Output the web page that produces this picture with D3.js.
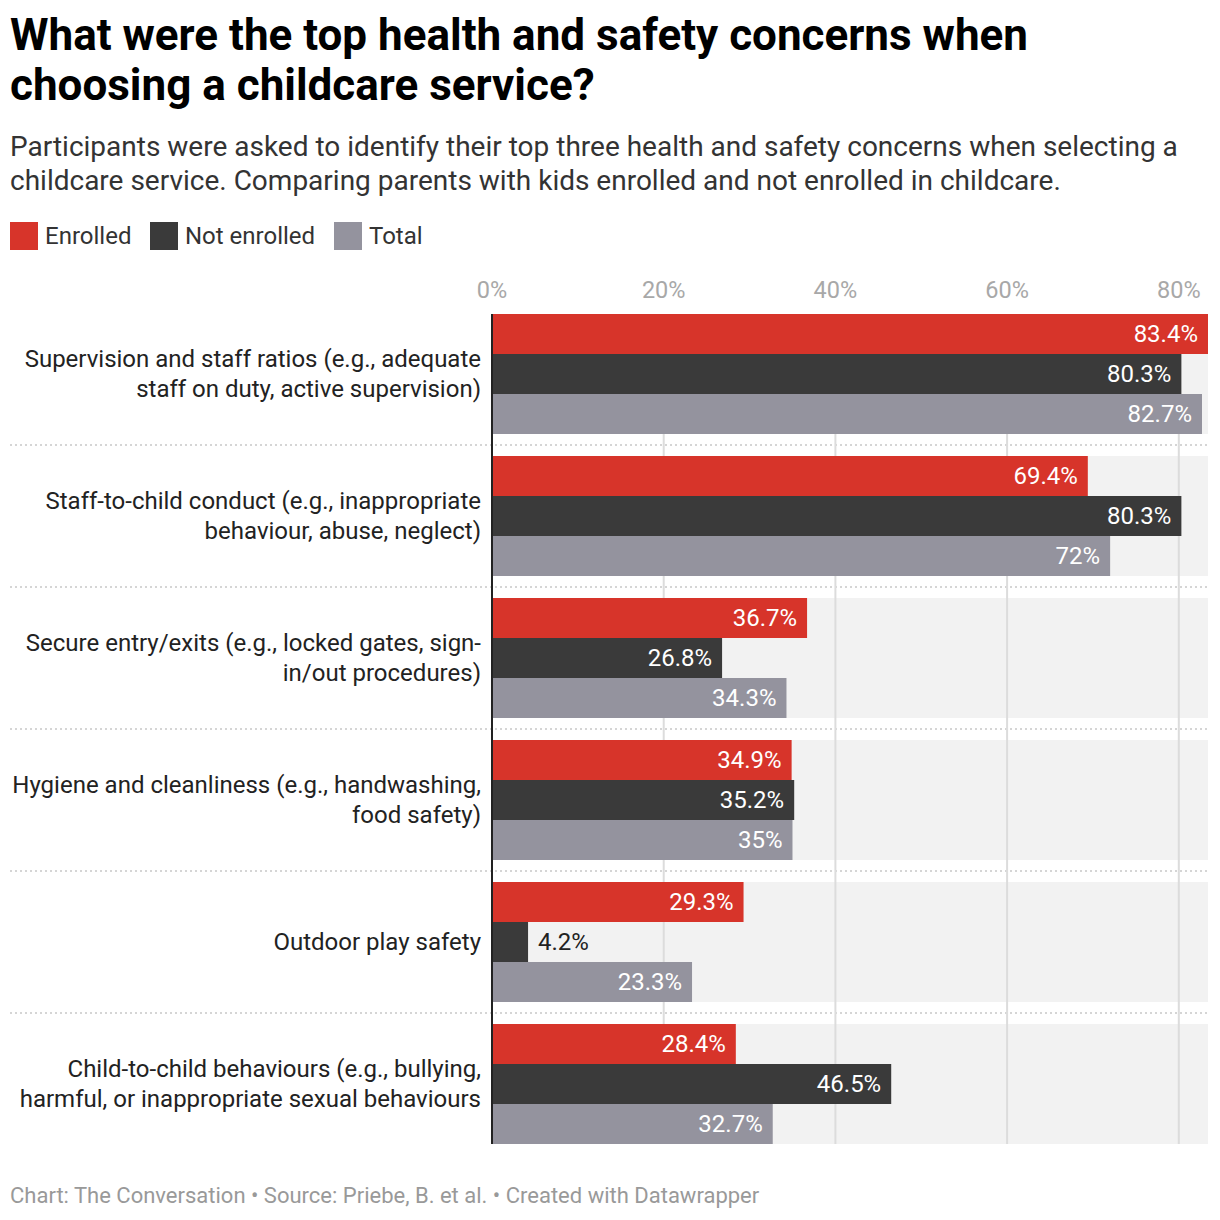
<!DOCTYPE html>
<html>
<head>
<meta charset="utf-8">
<script src="https://cdn.jsdelivr.net/npm/d3@7"></script>
<style>
  body { margin: 0; background: #fff; font-family: Roboto, sans-serif; }
  svg text { font-family: Roboto, sans-serif; }
</style>
</head>
<body>
<svg id="chart"></svg>
<script>
const width = 1220;
const height = 1220;

// data
const categories = [
    "Supervision and staff ratios (e.g., adequate\nstaff on duty, active supervision)",
    "Staff-to-child conduct (e.g., inappropriate\nbehaviour, abuse, neglect)",
    "Secure entry/exits (e.g., locked gates, sign-\nin/out procedures)",
    "Hygiene and cleanliness (e.g., handwashing,\nfood safety)",
    "Outdoor play safety",
    "Child-to-child behaviours (e.g., bullying,\nharmful, or inappropriate sexual behaviours"
];
const seriesNames = ["Enrolled", "Not enrolled", "Total"];
const enrolled = [83.4, 69.4, 36.7, 34.9, 29.3, 28.4];
const notEnrolled = [80.3, 80.3, 26.8, 35.2, 4.2, 46.5];
const total = [82.7, 72, 34.3, 35, 23.3, 32.7];
const xTicks = [0, 20, 40, 60, 80];

const colours = ["#d7342a", "#3a3a3a", "#94939e"];
const seriesValues = [enrolled, notEnrolled, total];

const rows = categories.map((c, i) => ({
    name: c,
    values: seriesValues.map((s, j) => ({ series: seriesNames[j], value: s[i], colour: colours[j] }))
}));

const svg = d3.select("#chart")
    .attr("width", width)
    .attr("height", height)
    .attr("viewBox", `0 0 ${width} ${height}`);

// header
svg.append("text")
    .attr("font-size", 44).attr("font-weight", 700).attr("fill", "#000")
    .selectAll("tspan")
    .data(["What were the top health and safety concerns when", "choosing a childcare service?"])
    .enter().append("tspan")
    .attr("x", 10).attr("y", (d, i) => 50 + i * 50)
    .text(d => d);

svg.append("text")
    .attr("font-size", 28).attr("fill", "#333")
    .selectAll("tspan")
    .data(["Participants were asked to identify their top three health and safety concerns when selecting a",
           "childcare service. Comparing parents with kids enrolled and not enrolled in childcare."])
    .enter().append("tspan")
    .attr("x", 10).attr("y", (d, i) => 156 + i * 34)
    .text(d => d);

// legend
const legendX = [10, 150, 334];
const legend = svg.append("g").selectAll("g")
    .data(seriesNames).enter().append("g")
    .attr("transform", (d, i) => `translate(${legendX[i]}, 222)`);
legend.append("rect").attr("width", 28).attr("height", 28).attr("fill", (d, i) => colours[i]);
legend.append("text").attr("x", 35).attr("y", 22).attr("font-size", 24).attr("fill", "#333").text(d => d);

// chart area
const x0 = 492, x1 = 1208;
const x = d3.scaleLinear().domain([0, 83.4]).range([x0, x1]);

const groupStep = 142, groupH = 120, chartTop = 314;
const y = d3.scaleBand().domain(d3.range(categories.length))
    .range([chartTop, chartTop + groupStep * categories.length - (groupStep - groupH)])
    .paddingInner((groupStep - groupH) / groupStep).paddingOuter(0).align(0);
const yInner = d3.scaleBand().domain(seriesNames).range([0, y.bandwidth()]);

const chart = svg.append("g");

// group backgrounds
chart.append("g").selectAll("rect")
    .data(rows).enter().append("rect")
    .attr("x", x0).attr("width", x1 - x0)
    .attr("y", (d, i) => y(i)).attr("height", y.bandwidth())
    .attr("fill", "#f2f2f2");

// separators
const gap = y.step() - y.bandwidth();
chart.append("g").selectAll("line")
    .data(rows.slice(1)).enter().append("line")
    .attr("x1", 10).attr("x2", x1)
    .attr("y1", (d, i) => y(i + 1) - gap / 2).attr("y2", (d, i) => y(i + 1) - gap / 2)
    .attr("stroke", "#c8c8c8").attr("stroke-width", 1.5).attr("stroke-dasharray", "2,3");

// gridlines + tick labels
const yBottom = y(categories.length - 1) + y.bandwidth();
chart.append("g").selectAll("line")
    .data(xTicks.slice(1)).enter().append("line")
    .attr("x1", d => x(d)).attr("x2", d => x(d))
    .attr("y1", chartTop).attr("y2", yBottom)
    .attr("stroke", "#dcdcdc").attr("stroke-width", 2);

chart.append("g").selectAll("text")
    .data(xTicks).enter().append("text")
    .attr("x", d => x(d)).attr("y", 298)
    .attr("text-anchor", "middle").attr("font-size", 23.5).attr("fill", "#a8a8a8")
    .text(d => d + "%");

// bars
const groups = chart.append("g").selectAll("g")
    .data(rows).enter().append("g")
    .attr("transform", (d, i) => `translate(0, ${y(i)})`);

groups.selectAll("rect")
    .data(d => d.values).enter().append("rect")
    .attr("x", x0)
    .attr("y", d => yInner(d.series))
    .attr("width", d => x(d.value) - x0)
    .attr("height", yInner.bandwidth())
    .attr("fill", d => d.colour);

groups.selectAll("text.value")
    .data(d => d.values).enter().append("text")
    .attr("class", "value")
    .attr("font-size", 24)
    .attr("y", d => yInner(d.series) + yInner.bandwidth() / 2 + 7.5)
    .each(function (d) {
        const inside = x(d.value) - x0 > 80;
        d3.select(this)
            .attr("x", inside ? x(d.value) - 10 : x(d.value) + 10)
            .attr("text-anchor", inside ? "end" : "start")
            .attr("fill", inside ? "#fff" : "#222");
    })
    .text(d => d.value + "%");

// category labels
groups.append("text")
    .attr("font-size", 24).attr("fill", "#222").attr("text-anchor", "end")
    .each(function (d) {
        const lines = d.name.split("\n");
        d3.select(this).selectAll("tspan")
            .data(lines).enter().append("tspan")
            .attr("x", 481)
            .attr("y", (l, k) => y.bandwidth() / 2 + 7.5 + (k - (lines.length - 1) / 2) * 30)
            .text(l => l);
    });

// zero axis
chart.append("line")
    .attr("x1", x0).attr("x2", x0)
    .attr("y1", chartTop).attr("y2", yBottom)
    .attr("stroke", "#222").attr("stroke-width", 2);

// footer
svg.append("text")
    .attr("x", 10).attr("y", 1203)
    .attr("font-size", 22).attr("fill", "#999")
    .text("Chart: The Conversation • Source: Priebe, B. et al. • Created with Datawrapper");
</script>
</body>
</html>
